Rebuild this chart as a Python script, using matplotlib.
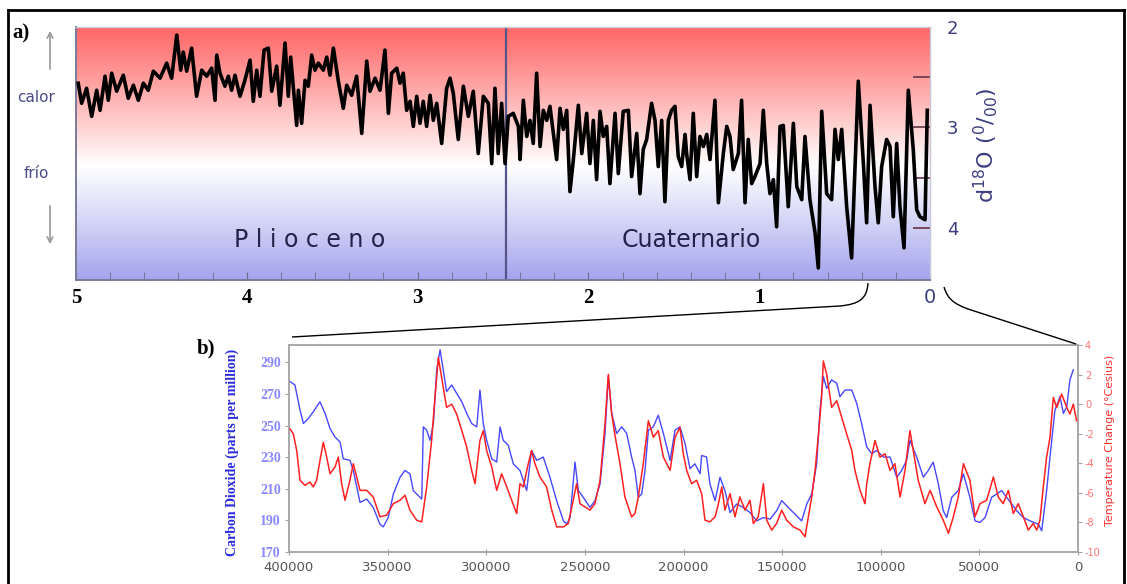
import matplotlib.pyplot as plt
import numpy as np
from matplotlib.colors import LinearSegmentedColormap
from matplotlib.patches import PathPatch
from matplotlib.path import Path
from matplotlib.lines import Line2D

plt.rcParams['axes.unicode_minus'] = False

W, H = 1127, 584

# ---- a) benthic d18O record, last 5 Ma (age in Ma, d18O in permil)
d18o_age = [4.987, 4.967, 4.938, 4.908, 4.879, 4.859, 4.830, 4.811, 4.791, 4.762,
            4.723, 4.694, 4.664, 4.635, 4.606, 4.577, 4.547, 4.508, 4.469, 4.440,
            4.410, 4.387, 4.372, 4.352, 4.323, 4.294, 4.264, 4.235, 4.206, 4.186,
            4.176, 4.157, 4.128, 4.108, 4.089, 4.069, 4.040, 4.011, 3.981, 3.962,
            3.942, 3.923, 3.899, 3.874, 3.854, 3.825, 3.806, 3.776, 3.757, 3.743,
            3.728, 3.708, 3.698, 3.679, 3.659, 3.640, 3.620, 3.601, 3.581, 3.552,
            3.532, 3.513, 3.493, 3.464, 3.435, 3.415, 3.386, 3.357, 3.327, 3.298,
            3.279, 3.249, 3.220, 3.191, 3.171, 3.152, 3.122, 3.103, 3.084, 3.064,
            3.044, 3.025, 3.005, 2.986, 2.967, 2.947, 2.927, 2.908, 2.888, 2.859,
            2.830, 2.810, 2.791, 2.762, 2.732, 2.703, 2.674, 2.645, 2.615, 2.586,
            2.566, 2.547, 2.528, 2.508, 2.488, 2.469, 2.440, 2.410, 2.400, 2.381,
            2.361, 2.342, 2.323, 2.303, 2.283, 2.264, 2.244, 2.225, 2.205, 2.186,
            2.166, 2.147, 2.127, 2.108, 2.088, 2.059, 2.039, 2.010, 1.991, 1.971,
            1.952, 1.932, 1.913, 1.893, 1.874, 1.844, 1.825, 1.796, 1.766, 1.747,
            1.717, 1.698, 1.679, 1.659, 1.630, 1.610, 1.591, 1.571, 1.552, 1.532,
            1.513, 1.493, 1.474, 1.454, 1.434, 1.425, 1.405, 1.386, 1.366, 1.347,
            1.327, 1.307, 1.288, 1.259, 1.239, 1.210, 1.190, 1.171, 1.152, 1.122,
            1.103, 1.083, 1.064, 1.044, 1.025, 0.995, 0.976, 0.956, 0.937, 0.917,
            0.898, 0.878, 0.859, 0.830, 0.800, 0.780, 0.751, 0.732, 0.703, 0.673,
            0.654, 0.634, 0.605, 0.576, 0.556, 0.537, 0.517, 0.488, 0.459, 0.420,
            0.390, 0.371, 0.351, 0.322, 0.303, 0.283, 0.254, 0.234, 0.215, 0.195,
            0.176, 0.152, 0.127, 0.098, 0.078, 0.059, 0.029, 0.016]
d18o_val = [2.56, 2.76, 2.61, 2.89, 2.63, 2.83, 2.49, 2.73, 2.46, 2.64,
            2.48, 2.71, 2.58, 2.73, 2.56, 2.63, 2.44, 2.51, 2.36, 2.51,
            2.08, 2.43, 2.25, 2.44, 2.21, 2.69, 2.43, 2.49, 2.41, 2.73,
            2.28, 2.46, 2.59, 2.49, 2.63, 2.48, 2.69, 2.53, 2.33, 2.74,
            2.43, 2.69, 2.23, 2.21, 2.64, 2.39, 2.78, 2.16, 2.69, 2.30,
            2.59, 2.98, 2.63, 2.96, 2.53, 2.59, 2.28, 2.43, 2.36, 2.43,
            2.30, 2.48, 2.21, 2.54, 2.81, 2.58, 2.68, 2.49, 3.06, 2.34,
            2.64, 2.51, 2.63, 2.23, 2.86, 2.46, 2.41, 2.56, 2.46, 2.83,
            2.74, 2.99, 2.69, 2.96, 2.74, 2.99, 2.68, 2.93, 2.76, 3.16,
            2.61, 2.51, 2.66, 3.12, 2.59, 2.89, 2.64, 3.26, 2.69, 2.76,
            3.36, 2.61, 3.26, 2.76, 3.36, 2.89, 2.86, 2.99, 3.32, 2.73,
            3.09, 2.93, 3.16, 2.46, 3.19, 2.83, 2.93, 2.79, 3.06, 3.32,
            2.81, 3.02, 2.83, 3.64, 3.32, 2.78, 3.26, 2.86, 3.36, 2.93,
            3.52, 2.84, 3.09, 2.99, 3.56, 2.86, 3.46, 2.84, 2.83, 3.49,
            3.06, 3.66, 3.22, 3.12, 2.76, 2.93, 3.39, 2.93, 3.74, 2.93,
            2.83, 2.79, 3.29, 3.39, 3.07, 3.26, 3.52, 2.86, 3.49, 3.09,
            3.19, 3.07, 3.32, 2.73, 3.75, 3.26, 2.99, 3.09, 3.42, 3.26,
            2.73, 3.75, 3.12, 3.56, 3.49, 3.36, 2.83, 3.36, 3.66, 3.52,
            3.99, 2.99, 2.98, 3.79, 2.96, 3.59, 3.72, 3.09, 3.72, 4.05,
            4.40, 2.84, 3.66, 3.72, 3.02, 3.32, 3.02, 3.79, 4.30, 2.54,
            3.36, 3.95, 2.78, 3.59, 3.95, 3.39, 3.12, 3.19, 3.89, 3.16,
            3.79, 4.20, 2.63, 3.22, 3.82, 3.89, 3.92, 2.83]
epoch_names = ['P l i o c e n o', 'Cuaternario']
epoch_label_age = [3.63, 1.40]
boundary_age = 2.48

# ---- b) Vostok ice core, last 400 kyr (age in kyr BP)
co2_age = [399.5, 397.0, 394.4, 392.7, 390.2, 387.7, 384.3, 381.7, 379.2, 376.7,
           374.1, 372.5, 369.1, 367.4, 364.0, 360.6, 357.3, 353.9, 352.2, 349.7,
           347.1, 343.7, 341.2, 338.7, 337.0, 333.6, 332.7, 331.9, 330.2, 328.5,
           326.8, 325.1, 323.4, 321.8, 320.1, 317.5, 315.0, 312.4, 309.9, 307.4,
           304.8, 303.2, 301.5, 299.8, 297.2, 294.7, 293.0, 291.4, 288.8, 286.3,
           282.9, 279.5, 277.0, 274.4, 271.1, 267.7, 264.3, 260.9, 259.2, 257.5,
           255.0, 253.3, 250.8, 247.4, 244.9, 242.3, 239.8, 238.1, 236.4, 233.9,
           231.3, 228.8, 226.3, 224.6, 222.9, 221.2, 219.5, 217.8, 215.3, 212.8,
           210.2, 206.8, 204.3, 201.8, 199.2, 196.7, 194.2, 191.6, 190.8, 188.3,
           186.6, 184.0, 181.5, 179.0, 176.4, 173.0, 169.7, 166.3, 162.9, 159.5,
           156.1, 152.8, 150.2, 146.9, 143.5, 140.1, 137.5, 135.0, 132.5, 130.8,
           129.1, 127.4, 124.9, 122.3, 120.7, 118.1, 114.7, 112.2, 109.7, 107.1,
           104.6, 102.1, 98.7, 95.3, 91.9, 89.4, 86.9, 85.2, 81.8, 78.4,
           75.9, 73.4, 70.8, 68.3, 66.6, 64.0, 60.7, 58.1, 54.8, 52.2,
           49.7, 47.1, 43.8, 41.2, 38.7, 36.2, 33.6, 31.1, 27.7, 24.3,
           20.1, 18.4, 15.9, 14.2, 11.7, 9.1, 7.4, 5.7, 4.1, 2.4]
co2_ppm = [277.9, 275.7, 259.8, 251.3, 254.5, 258.7, 265.1, 257.7, 248.1, 242.8,
           239.6, 229.0, 228.0, 221.6, 201.4, 203.5, 198.2, 187.6, 185.9, 191.8,
           206.7, 217.3, 221.6, 219.5, 208.9, 204.6, 203.5, 249.2, 247.1, 240.7,
           251.3, 285.3, 298.0, 285.3, 271.5, 275.7, 270.4, 265.1, 257.7, 251.3,
           249.2, 272.5, 251.3, 240.7, 229.0, 226.9, 249.2, 240.7, 237.5, 225.8,
           221.6, 208.9, 234.3, 228.0, 230.1, 217.3, 202.5, 189.7, 187.6, 191.8,
           226.9, 208.9, 204.6, 198.2, 202.5, 213.1, 245.0, 281.0, 257.7, 245.0,
           249.2, 245.0, 230.1, 221.6, 204.6, 206.7, 221.6, 247.1, 249.2, 256.6,
           245.0, 228.0, 247.1, 249.2, 238.6, 222.7, 225.8, 219.5, 231.1, 230.1,
           213.1, 202.5, 217.3, 208.9, 195.0, 200.4, 198.2, 195.0, 189.7, 191.8,
           190.8, 196.1, 202.5, 198.2, 194.0, 189.7, 200.4, 206.7, 225.8, 259.8,
           281.0, 273.6, 278.9, 276.8, 268.3, 272.5, 272.5, 264.1, 251.3, 236.5,
           232.2, 234.3, 230.1, 230.1, 217.3, 221.6, 228.0, 240.7, 230.1, 217.3,
           221.6, 226.9, 213.1, 196.1, 191.8, 204.6, 208.9, 219.5, 204.6, 189.7,
           188.7, 191.8, 204.6, 206.7, 208.9, 204.6, 200.4, 196.1, 191.8, 189.7,
           187.6, 183.4, 208.9, 230.1, 259.8, 268.3, 257.7, 261.9, 278.9, 285.3]
temp_age = [399.5, 397.8, 396.1, 394.4, 391.9, 389.4, 387.7, 386.0, 384.3, 382.6,
            380.9, 379.2, 376.7, 375.0, 373.3, 371.6, 369.1, 367.4, 365.7, 364.0,
            360.6, 357.3, 353.9, 350.5, 347.1, 343.7, 341.2, 338.7, 335.3, 332.7,
            330.2, 327.7, 326.0, 324.3, 321.8, 320.1, 317.5, 315.0, 312.4, 309.9,
            307.4, 305.7, 303.2, 301.5, 299.8, 297.2, 294.7, 292.2, 289.6, 287.1,
            284.6, 282.9, 281.2, 278.7, 277.0, 275.3, 272.8, 269.4, 266.8, 264.3,
            260.9, 258.4, 255.9, 254.2, 252.5, 249.9, 247.4, 244.9, 242.3, 239.8,
            238.1, 236.4, 234.7, 232.2, 229.7, 226.3, 224.6, 222.9, 220.4, 217.8,
            215.3, 212.8, 210.2, 206.8, 204.3, 201.8, 200.1, 198.4, 195.9, 193.3,
            190.8, 189.1, 186.6, 184.0, 182.3, 180.6, 179.0, 176.4, 173.9, 171.4,
            168.8, 166.3, 164.6, 162.1, 159.5, 157.8, 155.3, 152.8, 150.2, 147.7,
            144.3, 140.9, 138.4, 136.7, 135.0, 133.3, 131.7, 130.0, 129.1, 127.4,
            124.9, 122.3, 119.8, 117.3, 114.7, 113.1, 110.5, 108.0, 107.1, 105.5,
            102.9, 100.4, 97.8, 95.3, 92.8, 90.2, 87.7, 85.2, 83.5, 81.0,
            77.6, 75.0, 71.6, 68.3, 65.7, 63.2, 60.7, 58.1, 54.8, 52.2,
            49.7, 46.3, 42.9, 40.4, 37.9, 35.3, 32.8, 30.3, 27.7, 25.2,
            22.7, 20.9, 19.3, 17.6, 15.9, 14.2, 12.5, 10.8, 8.3, 5.7,
            4.1, 2.4, 0.7]
temp_dc = [-1.68, -2.01, -3.14, -5.15, -5.49, -5.27, -5.60, -5.15, -3.81, -2.58,
           -3.58, -4.71, -4.26, -3.58, -5.38, -6.50, -5.15, -4.03, -4.93, -5.83,
           -5.83, -6.28, -7.62, -7.51, -6.73, -6.50, -6.16, -7.17, -7.85, -7.96,
           -5.60, -2.46, 0.45, 3.15, 1.13, -0.22, 0.00, -0.67, -1.79, -2.91,
           -4.48, -5.38, -2.46, -1.79, -3.14, -4.26, -5.83, -4.71, -5.60, -6.50,
           -7.40, -5.38, -5.60, -4.03, -3.14, -4.03, -4.93, -5.60, -7.17, -8.30,
           -8.30, -8.07, -6.50, -5.38, -6.73, -6.95, -7.17, -6.73, -5.15, -1.34,
           2.02, -0.67, -2.13, -4.03, -6.28, -7.62, -7.40, -6.28, -4.03, -1.12,
           -2.24, -1.79, -3.58, -4.48, -2.24, -1.57, -3.36, -4.48, -5.38, -5.15,
           -6.05, -7.85, -7.96, -7.62, -6.73, -5.60, -7.17, -6.05, -7.62, -6.28,
           -7.17, -6.50, -8.07, -7.62, -5.38, -7.85, -8.52, -8.07, -7.17, -7.85,
           -8.30, -8.52, -8.97, -7.62, -6.28, -4.48, -2.24, 0.45, 2.92, 2.02,
           -0.22, 0.23, -0.89, -2.01, -3.14, -4.48, -5.83, -6.73, -5.38, -4.03,
           -2.46, -3.58, -3.36, -4.48, -4.03, -6.28, -4.48, -1.79, -3.14, -5.15,
           -6.73, -5.83, -6.95, -7.85, -8.74, -7.62, -6.28, -4.03, -5.15, -7.62,
           -6.73, -6.50, -4.93, -6.28, -6.73, -5.83, -7.40, -6.73, -7.62, -8.52,
           -8.07, -8.52, -7.85, -5.60, -3.58, -2.24, 0.45, -0.22, 0.68, -0.22,
           -0.67, 0.00, -1.12]


def fx(px):
    return px / W


def fy(py):
    return 1 - py / H


fig = plt.figure(figsize=(W / 100, H / 100), dpi=100)
navy = '#3c3c80'

# outer frame
for xs, ys in [([8, 8], [10, 590]), ([8, 1124], [10, 10]), ([1124, 1124], [10, 590])]:
    fig.add_artist(Line2D([fx(v) for v in xs], [fy(v) for v in ys], color='black', lw=2))

# ---------------- panel a
ax = fig.add_axes([fx(76), fy(280), fx(930) - fx(76), fy(27) - fy(280)])
grad = LinearSegmentedColormap.from_list('warmcold', [
    (0.0, '#ff6666'), (0.25, '#ffaaaa'), (0.55, '#ffffff'),
    (0.78, '#d2d2f6'), (1.0, '#a4a4ee')])
ax.imshow(np.linspace(0, 1, 256)[:, None], aspect='auto', cmap=grad,
          extent=[5, 0, 4.52, 2], zorder=0)
ax.set_xlim(5, 0)
ax.set_ylim(4.52, 2)
ax.plot(d18o_age, d18o_val, color='black', lw=2.6, zorder=3, solid_joinstyle='round')
ax.axvline(boundary_age, color='#55558a', lw=1.6, zorder=2)
for name, age in zip(epoch_names, epoch_label_age):
    ax.text(age, 4.12, name, ha='center', va='center', fontsize=17, color='#22224a',
            family='DejaVu Sans', zorder=4)

for s in ['left', 'bottom']:
    ax.spines[s].set_color('#7a7a9a')
    ax.spines[s].set_linewidth(1.4)
for s in ['top', 'right']:
    ax.spines[s].set_color('#c8c8d8')
    ax.spines[s].set_linewidth(1)

ax.set_xticks([5, 4, 3, 2, 1, 0])
ax.set_xticklabels(['5', '4', '3', '2', '1', '0'])
ax.set_xticks(np.arange(0.2, 5, 0.2), minor=True)
ax.tick_params(axis='x', which='both', direction='in', length=6, color='#6a6a8a', pad=6)
for lab in ax.get_xticklabels():
    lab.set_fontfamily('Liberation Serif')
    lab.set_fontweight('bold')
    lab.set_fontsize(15)
ax.get_xticklabels()[-1].set_fontfamily('DejaVu Sans')
ax.get_xticklabels()[-1].set_fontweight('normal')
ax.get_xticklabels()[-1].set_color(navy)
ax.get_xticklabels()[-1].set_fontsize(14)

ax.yaxis.tick_right()
ax.yaxis.remove_overlapping_locs = False
ax.set_yticks([2, 3, 4])
ax.set_yticklabels(['2', '3', '4'])
ax.set_yticks([2.5, 3, 3.5, 4], minor=True)
ax.tick_params(axis='y', which='major', length=0, pad=12, labelsize=13, labelcolor=navy)
ax.tick_params(axis='y', which='minor', direction='in', length=12, width=1.3, color='#704050')

fig.text(fx(986), fy(145), r'd$^{18}$O ($^{0}$/$_{00}$)', rotation=90, ha='center', va='center',
         fontsize=16, color=navy)
fig.text(fx(36), fy(98), 'calor', ha='center', va='center', fontsize=11, color='#4a4a88')
fig.text(fx(36), fy(174), 'frío', ha='center', va='center', fontsize=11, color='#4a4a88')
fig.add_artist(plt.Annotation('', xy=(fx(50), fy(28)), xytext=(fx(50), fy(72)),
                              xycoords='figure fraction',
                              arrowprops=dict(arrowstyle='->', color='#9a9a9a', lw=1.2)))
fig.add_artist(plt.Annotation('', xy=(fx(50), fy(247)), xytext=(fx(50), fy(203)),
                              xycoords='figure fraction',
                              arrowprops=dict(arrowstyle='->', color='#9a9a9a', lw=1.2)))
fig.text(fx(12), fy(33), 'a)', ha='left', va='center', fontsize=15, fontweight='bold',
         family='Liberation Serif')

# ---------------- panel b
bx = fig.add_axes([fx(289), fy(552), fx(1078) - fx(289), fy(345) - fy(552)])
bx.plot(np.array(co2_age) * 1000, co2_ppm, color='#4848ff', lw=1.0, zorder=3)
bx.set_xlim(400000, 0)
bx.set_ylim(170, 301)
bx.set_yticks(np.arange(170, 300, 20))
bx.set_xticks(np.arange(0, 400001, 50000))
bx.tick_params(axis='y', direction='out', length=3, color='#a0a0a0', labelsize=10,
               labelcolor='#8a8aff', pad=3)
bx.tick_params(axis='x', direction='inout', length=5, color='#a0a0a0', labelsize=9.5,
               labelcolor='#555555', pad=4)
for lab in bx.get_yticklabels():
    lab.set_fontfamily('Liberation Serif')
    lab.set_fontweight('bold')

tx = bx.twinx()
tx.plot(np.array(temp_age) * 1000, temp_dc, color='#ff2020', lw=1.1, zorder=4)
tx.set_ylim(-10, 4)
tx.set_yticks(np.arange(-10, 5, 2))
tx.tick_params(axis='y', direction='out', length=3, color='#a0a0a0', labelsize=7,
               labelcolor='#ff7070', pad=2)
for a in (bx, tx):
    for s in a.spines.values():
        s.set_color('#a8a8a8')
        s.set_linewidth(1.2)

fig.text(fx(232), fy(452), 'Carbon Dioxide (parts per million)', rotation=90, ha='center',
         va='center', fontsize=10, fontweight='bold', color='#2a2ae0', family='Liberation Serif')
fig.text(fx(1110), fy(440), 'Temperature Change (°Cesius)', rotation=90, ha='center',
         va='center', fontsize=8, color='#ff3030')
fig.text(fx(197), fy(348), 'b)', ha='left', va='center', fontsize=15, fontweight='bold',
         family='Liberation Serif')

# zoom connectors
def curve(pts, codes):
    p = Path([(fx(a), fy(b)) for a, b in pts], codes)
    fig.add_artist(PathPatch(p, fc='none', ec='black', lw=1.0, transform=fig.transFigure))


curve([(868, 283), (867, 300), (858, 304), (840, 306), (292, 337)],
      [Path.MOVETO, Path.CURVE4, Path.CURVE4, Path.CURVE4, Path.LINETO])
curve([(944, 287), (948, 300), (955, 304), (968, 309), (1076, 344)],
      [Path.MOVETO, Path.CURVE4, Path.CURVE4, Path.CURVE4, Path.LINETO])

fig.savefig('out.png', dpi=100)
